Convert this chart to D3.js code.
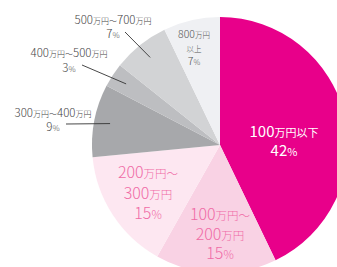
<!DOCTYPE html>
<html>
<head>
<meta charset="utf-8">
<script src="https://cdn.jsdelivr.net/npm/d3@7"></script>
<style>
  body { margin: 0; background: #fff; }
  svg { display: block; font-family: "Noto Sans CJK JP", "Noto Sans", sans-serif; }
</style>
</head>
<body>
<div id="chart"></div>
<script>
// slices, clockwise from 12 o'clock
const categories = ["100万円以下", "100万円~200万円", "200万円~300万円", "300万円~400万円", "400万円~500万円", "500万円~700万円", "800万円以上"];
const shares = [42, 15, 15, 9, 3, 7, 7];
const colors = ["#e8008a", "#f9d2e4", "#fde7f1", "#a7a8ab", "#bdbec1", "#d2d3d5", "#eff0f3"];

// label lines: [number, unit] pieces per line
const labelLines = [
    [[["100", "万円以下"]], [["42", "%"]]],
    [[["100", "万円～"]], [["200", "万円"]], [["15", "%"]]],
    [[["200", "万円～"]], [["300", "万円"]], [["15", "%"]]],
    [[["300", "万円～"], ["400", "万円"]], [["9", "%"]]],
    [[["400", "万円～"], ["500", "万円"]], [["3", "%"]]],
    [[["500", "万円～"], ["700", "万円"]], [["7", "%"]]],
    [[["800", "万円"]], [["", "以上"]], [["7", "%"]]]
];

const W = 337, H = 267;
const cx = 220, cy = 145, R = 128;

const svg = d3.select("#chart").append("svg")
    .attr("width", W)
    .attr("height", H);

const g = svg.append("g").attr("transform", `translate(${cx},${cy})`);

const pie = d3.pie().sort(null).value(d => d);
const arcs = pie(shares);
const arc = d3.arc().innerRadius(0).outerRadius(R);

g.selectAll(".slice").data(arcs).enter()
    .append("path")
    .attr("class", "slice")
    .attr("d", arc)
    .attr("fill", (d, i) => colors[i]);

// label anchor (first baseline) and leader start for outside labels
const place = [
    {x: 284, y: 137, color: "#fff", big: 15, small: 11, lh: 19, w: 400},
    {x: 220, y: 220, color: "#f06ba6", big: 16, small: 11.5, lh: 19.5},
    {x: 148, y: 178, color: "#f06ba6", big: 16, small: 11.5, lh: 20.5},
    {x: 53, y: 117, color: "#444", big: 11.5, small: 8, lh: 14, lx: 66, ly: 124},
    {x: 69, y: 57, color: "#444", big: 11.5, small: 8, lh: 14.5, lx: 82, ly: 65},
    {x: 113, y: 24, color: "#444", big: 11.5, small: 8, lh: 14, lx: 125, ly: 32},
    {x: 194, y: 38, color: "#555", big: 10.5, small: 7.5, lh: 13.5}
];

const angPos = (a, r) => [r * Math.sin(a), -r * Math.cos(a)];

arcs.forEach((d, i) => {
    const p = place[i];
    const mid = (d.startAngle + d.endAngle) / 2;
    if (p.lx !== undefined) {
        const e = angPos(mid, R * 0.875);
        svg.append("line")
            .attr("x1", p.lx).attr("y1", p.ly)
            .attr("x2", cx + e[0]).attr("y2", cy + e[1])
            .attr("stroke", "#333")
            .attr("stroke-width", 0.9);
    }
    labelLines[i].forEach((line, j) => {
        const t = svg.append("text")
            .attr("x", p.x)
            .attr("y", p.y + j * p.lh)
            .attr("text-anchor", "middle")
            .attr("font-weight", p.w || 300)
            .attr("fill", p.color);
        line.forEach(part => {
            if (part[0]) t.append("tspan").attr("font-size", p.big).text(part[0]);
            t.append("tspan").attr("font-size", p.small).text(part[1]);
        });
    });
});
</script>
</body>
</html>
